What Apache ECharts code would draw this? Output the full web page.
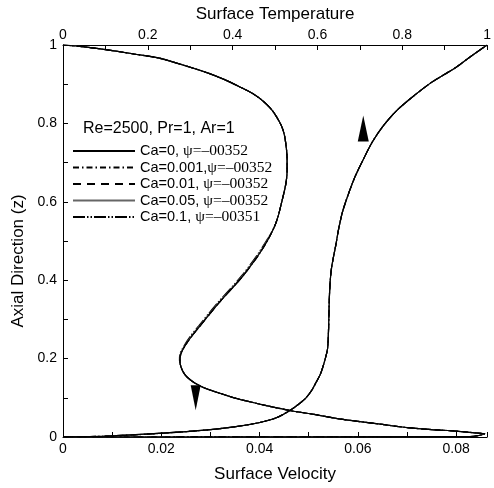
<!DOCTYPE html>
<html>
<head>
<meta charset="utf-8">
<script src="https://cdn.jsdelivr.net/npm/echarts@6/dist/echarts.min.js"></script>
<style>html,body{margin:0;padding:0;background:#fff}#c{width:494px;height:488px}</style>
</head>
<body>
<div id="c"></div>
<script>
// Legend entries
const caNames = ['Ca=0', 'Ca=0.001', 'Ca=0.01', 'Ca=0.05', 'Ca=0.1'];
const caLabels = ['Ca=0, ', 'Ca=0.001,', 'Ca=0.01, ', 'Ca=0.05, ', 'Ca=0.1, '];
const psiLabels = ['ψ=–00352', 'ψ=–00352', 'ψ=–00352', 'ψ=–00352', 'ψ=–00351'];
const paramText = 'Re=2500, Pr=1, Ar=1';

// Surface velocity profiles (bottom axis) vs axial direction z
const velZ = [1.000, 0.995, 0.987, 0.977, 0.967, 0.949, 0.929, 0.911, 0.893, 0.876, 0.856, 0.836, 0.818, 0.795, 0.773, 0.742, 0.709, 0.678, 0.650, 0.625, 0.594, 0.564, 0.536, 0.501, 0.468, 0.440, 0.412, 0.379, 0.346, 0.316, 0.285, 0.257, 0.232, 0.212, 0.196, 0.179, 0.163, 0.151, 0.138, 0.125, 0.113, 0.100, 0.090, 0.080, 0.067, 0.057, 0.047, 0.040, 0.032, 0.024, 0.019, 0.015, 0.011, 0.008, 0.001, 0];
const velCa0    = [0, 0.0044, 0.0094, 0.0144, 0.0194, 0.0244, 0.0294, 0.0330, 0.0360, 0.0386, 0.0408, 0.0424, 0.0434, 0.0444, 0.0450, 0.0454, 0.0456, 0.0456, 0.0454, 0.0450, 0.0444, 0.0438, 0.0430, 0.0416, 0.0400, 0.0384, 0.0367, 0.0344, 0.0320, 0.0300, 0.0280, 0.0262, 0.0248, 0.0240, 0.0238, 0.0240, 0.0246, 0.0254, 0.0268, 0.0288, 0.0316, 0.0348, 0.0380, 0.0414, 0.0464, 0.0514, 0.0558, 0.0600, 0.0650, 0.0700, 0.0750, 0.0800, 0.0834, 0.0858, 0.0828, 0];
const velCa0001 = [0, 0.0044, 0.0094, 0.0144, 0.0194, 0.0244, 0.0294, 0.0330, 0.0360, 0.0386, 0.0408, 0.0424, 0.0434, 0.0444, 0.0450, 0.0454, 0.0456, 0.0456, 0.0454, 0.0450, 0.0444, 0.0438, 0.0430, 0.0416, 0.0400, 0.0384, 0.0367, 0.0344, 0.0320, 0.0300, 0.0280, 0.0262, 0.0248, 0.0240, 0.0238, 0.0240, 0.0246, 0.0254, 0.0268, 0.0288, 0.0316, 0.0348, 0.0380, 0.0414, 0.0464, 0.0514, 0.0558, 0.0600, 0.0650, 0.0700, 0.0750, 0.0800, 0.0834, 0.0858, 0.0828, 0];
const velCa001  = [0, 0.0044, 0.0094, 0.0144, 0.0194, 0.0244, 0.0294, 0.0330, 0.0360, 0.0386, 0.0408, 0.0424, 0.0434, 0.0444, 0.0450, 0.0454, 0.0456, 0.0456, 0.0454, 0.0450, 0.0444, 0.0438, 0.0430, 0.0416, 0.0400, 0.0384, 0.0367, 0.0344, 0.0320, 0.0300, 0.0280, 0.0262, 0.0248, 0.0240, 0.0238, 0.0240, 0.0246, 0.0254, 0.0268, 0.0288, 0.0316, 0.0348, 0.0380, 0.0414, 0.0464, 0.0514, 0.0558, 0.0600, 0.0650, 0.0700, 0.0750, 0.0800, 0.0834, 0.0858, 0.0828, 0];
const velCa005  = [0, 0.0044, 0.0094, 0.0144, 0.0194, 0.0244, 0.0294, 0.0330, 0.0360, 0.0386, 0.0408, 0.0424, 0.0434, 0.0444, 0.0450, 0.0454, 0.0456, 0.0456, 0.0454, 0.0450, 0.0444, 0.0438, 0.0430, 0.0415, 0.0399, 0.0383, 0.0366, 0.0343, 0.0319, 0.0299, 0.0279, 0.0261, 0.0247, 0.0239, 0.0238, 0.0240, 0.0246, 0.0254, 0.0268, 0.0288, 0.0316, 0.0348, 0.0380, 0.0414, 0.0464, 0.0514, 0.0558, 0.0600, 0.0650, 0.0700, 0.0750, 0.0800, 0.0834, 0.0858, 0.0828, 0];
const velCa01   = [0, 0.0044, 0.0094, 0.0144, 0.0194, 0.0244, 0.0294, 0.0330, 0.0360, 0.0386, 0.0408, 0.0424, 0.0434, 0.0444, 0.0450, 0.0454, 0.0456, 0.0456, 0.0454, 0.0450, 0.0444, 0.0438, 0.0430, 0.0414, 0.0397, 0.0381, 0.0364, 0.0341, 0.0317, 0.0297, 0.0277, 0.0259, 0.0246, 0.0238, 0.0237, 0.0240, 0.0246, 0.0254, 0.0268, 0.0288, 0.0316, 0.0348, 0.0380, 0.0414, 0.0464, 0.0514, 0.0558, 0.0600, 0.0650, 0.0700, 0.0750, 0.0800, 0.0834, 0.0858, 0.0828, 0];

// Surface temperature profile (top axis) vs axial direction z
const tempZ   = [0, 0.0025, 0.009, 0.018, 0.027, 0.037, 0.049, 0.067, 0.085, 0.100, 0.120, 0.138, 0.158, 0.176, 0.202, 0.227, 0.270, 0.311, 0.354, 0.397, 0.430, 0.455, 0.488, 0.531, 0.574, 0.620, 0.665, 0.708, 0.752, 0.795, 0.835, 0.871, 0.904, 0.924, 0.944, 0.972, 1.000];
const tempAll = [0, 0.109, 0.225, 0.341, 0.411, 0.464, 0.503, 0.534, 0.557, 0.573, 0.587, 0.596, 0.606, 0.612, 0.619, 0.624, 0.626, 0.627, 0.628, 0.630, 0.633, 0.637, 0.643, 0.650, 0.659, 0.673, 0.689, 0.708, 0.729, 0.756, 0.789, 0.828, 0.868, 0.898, 0.928, 0.963, 1.000];

// Direction arrows: [x value, z]
const arrowDown = [0.027, 0.100];
const arrowUp = [0.708, 0.787];

const velSets = [velCa0, velCa0001, velCa001, velCa005, velCa01];
const dashes = ['solid', [6, 3, 1.5, 3], [8, 6], 'solid', [12, 2, 1.5, 2, 1.5, 2]];
const colors = ['#000', '#000', '#000', '#666', '#000'];

const pairs = (xs, zs) => xs.map((v, i) => [v, zs[i]]);

const series = [];
caNames.forEach((n, k) => {
  series.push({
    name: n, type: 'line', xAxisIndex: 0, yAxisIndex: 0,
    data: pairs(velSets[k], velZ), showSymbol: false, symbol: 'none', smooth: 0.3,
    lineStyle: { color: colors[k], width: 1.2, type: dashes[k] }, itemStyle: { color: colors[k] },
    z: 5 - k
  });
});
caNames.forEach((n, k) => {
  series.push({
    name: n, type: 'line', xAxisIndex: 1, yAxisIndex: 0,
    data: pairs(tempAll, tempZ), showSymbol: false, symbol: 'none', smooth: 0.3,
    lineStyle: { color: colors[k], width: 1.2, type: dashes[k] }, itemStyle: { color: colors[k] },
    z: 5 - k
  });
});
series.push({
  type: 'scatter', xAxisIndex: 0, yAxisIndex: 0, data: [arrowDown],
  symbol: 'path://M0,0L10,0L5,26Z', symbolSize: [10, 25], itemStyle: { color: '#000', opacity: 1 }, silent: true, z: 10
});
series.push({
  type: 'scatter', xAxisIndex: 1, yAxisIndex: 0, data: [arrowUp],
  symbol: 'path://M5,0L10,26L0,26Z', symbolSize: [11, 26], itemStyle: { color: '#000', opacity: 1 }, silent: true, z: 10
});

const lab = { color: '#000', fontFamily: 'Arial, "Liberation Sans", sans-serif', fontSize: 14 };
const nameStyle = { color: '#000', fontFamily: 'Arial, "Liberation Sans", sans-serif', fontSize: 17 };
const axLine = { show: true, lineStyle: { color: '#000', width: 1 } };
const tick = { show: true, inside: true, length: 5, lineStyle: { color: '#000' } };
const minor = { show: true, splitNumber: 2, length: 5, lineStyle: { color: '#000' } };

const chart = echarts.init(document.getElementById('c'), null, { renderer: 'canvas' });
chart.setOption({
  animation: false,
  backgroundColor: '#fff',
  title: {
    text: paramText, left: 83, top: 121, padding: 0,
    textStyle: { fontFamily: 'Arial, "Liberation Sans", sans-serif', fontSize: 16, fontWeight: 'normal', color: '#000' }
  },
  grid: { left: 63, right: 0, top: 45, bottom: 48 },
  legend: {
    data: caNames, orient: 'vertical', left: 72, top: 143, padding: 0,
    itemWidth: 62, itemHeight: 10, itemGap: 0.5,
    itemStyle: { opacity: 0, borderWidth: 0 },
    formatter: (n) => { const k = caNames.indexOf(n); return '{a|' + caLabels[k] + '}{b|' + psiLabels[k] + '}'; },
    textStyle: {
      rich: {
        a: { fontFamily: 'Arial, "Liberation Sans", sans-serif', fontSize: 14.5, color: '#000', lineHeight: 15 },
        b: { fontFamily: '"Times New Roman", "Liberation Serif", serif', fontSize: 15.5, color: '#000', lineHeight: 15 }
      }
    }
  },
  xAxis: [
    {
      type: 'value', position: 'bottom', min: 0, max: 0.0863, interval: 0.02,
      name: 'Surface Velocity', nameLocation: 'middle', nameGap: 29, nameTextStyle: nameStyle,
      axisLine: axLine, axisTick: tick, minorTick: minor, splitLine: { show: false },
      axisLabel: Object.assign({ margin: 5, showMaxLabel: false, formatter: v => String(+v.toFixed(2)) }, lab)
    },
    {
      type: 'value', position: 'top', min: 0, max: 1, interval: 0.2,
      name: 'Surface Temperature', nameLocation: 'middle', nameGap: 19, nameTextStyle: nameStyle,
      axisLine: axLine, axisTick: tick, minorTick: minor, splitLine: { show: false },
      axisLabel: Object.assign({ margin: 3, formatter: v => String(+v.toFixed(1)) }, lab)
    }
  ],
  yAxis: [
    {
      type: 'value', min: 0, max: 1, interval: 0.2,
      name: 'Axial Direction (z)', nameLocation: 'middle', nameGap: 33,
      nameTextStyle: Object.assign({ padding: [0, 40, 0, 0] }, nameStyle),
      axisLine: axLine, axisTick: tick, minorTick: minor, splitLine: { show: false },
      axisLabel: Object.assign({ margin: 6, formatter: v => String(+v.toFixed(1)) }, lab)
    }
  ],
  series: series
});
</script>
</body>
</html>
